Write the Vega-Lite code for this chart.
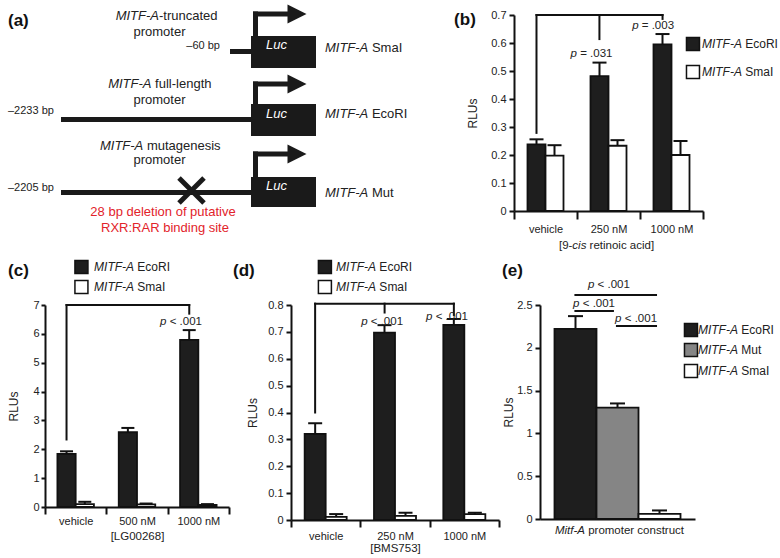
{
  "$schema": "https://vega.github.io/schema/vega-lite/v6.json",
  "padding": {"left": 7, "top": 4, "right": 0, "bottom": 0},
  "background": "#ffffff",
  "config": {
    "font": "Liberation Sans",
    "view": {"stroke": null},
    "axis": {
      "domainColor": "#111111", "domainWidth": 2, "tickColor": "#111111", "tickWidth": 2,
      "labelColor": "#222222", "labelFont": "Liberation Sans", "labelFontSize": 11,
      "titleColor": "#222222", "titleFont": "Liberation Sans", "titleFontSize": 12, "titleFontWeight": "normal",
      "grid": false
    },
    "text": {"font": "Liberation Sans", "color": "#222222"}
  },
  "datasets": {
    "a_lines": [
      {"x": 185, "x2": 206, "y": 36.5, "y2": 36.5},
      {"x": 210.5, "x2": 210.5, "y": 21, "y2": -3.5},
      {"x": 208, "x2": 245, "y": -1, "y2": -1},
      {"x": 16, "x2": 206, "y": 104.5, "y2": 104.5},
      {"x": 210.5, "x2": 210.5, "y": 89, "y2": 66.5},
      {"x": 208, "x2": 245, "y": 69, "y2": 69},
      {"x": 16, "x2": 206, "y": 177.5, "y2": 177.5},
      {"x": 210.5, "x2": 210.5, "y": 162, "y2": 136.5},
      {"x": 208, "x2": 245, "y": 139, "y2": 139},
      {"x": 134, "x2": 159, "y": 163, "y2": 188},
      {"x": 134, "x2": 159, "y": 188, "y2": 163}
    ],
    "a_boxes": [
      {"x": 206, "x2": 271, "y": 21, "y2": 53},
      {"x": 206, "x2": 271, "y": 89, "y2": 121},
      {"x": 206, "x2": 271, "y": 162, "y2": 192}
    ],
    "a_heads": [{"x": 252, "y": -1}, {"x": 252, "y": 69}, {"x": 252, "y": 139}],
    "a_luc": [{"x": 221, "y": 30}, {"x": 221, "y": 99}, {"x": 221, "y": 171}],
    "a_labels": [
      {"x": 106.5, "y": 69, "it": "MITF-A", "rest": "full-length"},
      {"x": 98.3, "y": 131, "it": "MITF-A", "rest": "mutagenesis"},
      {"x": 323.3, "y": 33, "it": "MITF-A", "rest": "SmaI"},
      {"x": 323.3, "y": 99, "it": "MITF-A", "rest": "EcoRI"},
      {"x": 323.3, "y": 178, "it": "MITF-A", "rest": "Mut"}
    ],
    "a_trunc": [{"x": 114, "y": 1, "it": "MITF-A", "rest": "-truncated"}],
    "a_prom": [{"x": 114.5, "y": 17}, {"x": 114.5, "y": 85}, {"x": 114.5, "y": 145}],
    "a_bp_left": [{"x": -37, "y": 96, "t": "–2233 bp"}, {"x": -37, "y": 173, "t": "–2205 bp"}],
    "a_bp_right": [{"x": 175, "y": 31, "t": "–60 bp"}],
    "a_red": [{"x": 118, "y": 197, "t": "28 bp deletion of putative"}, {"x": 120, "y": 213, "t": "RXR:RAR binding site"}],
    "a_tag": [{"x": -37, "y": 10.5}],

    "b_bars": [
      {"conc": "vehicle", "grp": "EcoRI", "rlu": 0.238, "hi": 0.256},
      {"conc": "vehicle", "grp": "SmaI", "rlu": 0.198, "hi": 0.235},
      {"conc": "250 nM", "grp": "EcoRI", "rlu": 0.482, "hi": 0.53},
      {"conc": "250 nM", "grp": "SmaI", "rlu": 0.233, "hi": 0.253},
      {"conc": "1000 nM", "grp": "EcoRI", "rlu": 0.595, "hi": 0.632},
      {"conc": "1000 nM", "grp": "SmaI", "rlu": 0.2, "hi": 0.25}
    ],
    "b_br": [
      {"u": 0.119, "u2": 0.119, "v": 0.279, "v2": 0.7},
      {"u": 0.119, "u2": 0.786, "v": 0.7, "v2": 0.7},
      {"u": 0.786, "u2": 0.786, "v": 0.7, "v2": 0.686},
      {"u": 0.452, "u2": 0.452, "v": 0.7, "v2": 0.614}
    ],
    "b_leg": [
      {"grp": "EcoRI", "u": 0.947, "us": 1.206, "v": 0.596, "rest": "EcoRI"},
      {"grp": "SmaI", "u": 0.947, "us": 1.206, "v": 0.496, "rest": "SmaI"}
    ],
    "b_p": [
      {"u": 0.333, "v": 0.561, "rest": "= .031"},
      {"u": 0.659, "v": 0.661, "rest": "= .003"}
    ],
    "b_tag": [{"u": -0.317, "v": 0.664}],
    "b_title": [{"u": 0.346, "v": -0.125}],

    "c_bars": [
      {"conc": "vehicle", "grp": "EcoRI", "rlu": 1.84, "hi": 1.93},
      {"conc": "vehicle", "grp": "SmaI", "rlu": 0.1, "hi": 0.18},
      {"conc": "500 nM", "grp": "EcoRI", "rlu": 2.59, "hi": 2.74},
      {"conc": "500 nM", "grp": "SmaI", "rlu": 0.09, "hi": 0.12},
      {"conc": "1000 nM", "grp": "EcoRI", "rlu": 5.79, "hi": 6.13},
      {"conc": "1000 nM", "grp": "SmaI", "rlu": 0.07, "hi": 0.1}
    ],
    "c_br": [
      {"u": 0.117, "u2": 0.117, "v": 2.34, "v2": 7},
      {"u": 0.117, "u2": 0.784, "v": 7, "v2": 7},
      {"u": 0.784, "u2": 0.784, "v": 7, "v2": 6.7}
    ],
    "c_leg": [
      {"grp": "EcoRI", "u": 0.198, "us": 0.484, "v": 8.32, "rest": "EcoRI"},
      {"grp": "SmaI", "u": 0.198, "us": 0.484, "v": 7.62, "rest": "SmaI"}
    ],
    "c_p": [{"u": 0.66, "v": 6.41, "rest": "< .001"}],
    "c_tag": [{"u": -0.201, "v": 8.0}],

    "d_bars": [
      {"conc": "vehicle", "grp": "EcoRI", "rlu": 0.32, "hi": 0.36},
      {"conc": "vehicle", "grp": "SmaI", "rlu": 0.012, "hi": 0.022},
      {"conc": "250 nM", "grp": "EcoRI", "rlu": 0.697, "hi": 0.725},
      {"conc": "250 nM", "grp": "SmaI", "rlu": 0.015, "hi": 0.027},
      {"conc": "1000 nM", "grp": "EcoRI", "rlu": 0.726, "hi": 0.748},
      {"conc": "1000 nM", "grp": "SmaI", "rlu": 0.022, "hi": 0.027}
    ],
    "d_br": [
      {"u": 0.116, "u2": 0.116, "v": 0.4, "v2": 0.805},
      {"u": 0.116, "u2": 0.783, "v": 0.805, "v2": 0.805},
      {"u": 0.783, "u2": 0.783, "v": 0.805, "v2": 0.763},
      {"u": 0.45, "u2": 0.45, "v": 0.805, "v2": 0.772}
    ],
    "d_leg": [
      {"grp": "EcoRI", "u": 0.163, "us": 0.409, "v": 0.941, "rest": "EcoRI"},
      {"grp": "SmaI", "u": 0.163, "us": 0.409, "v": 0.867, "rest": "SmaI"}
    ],
    "d_p": [
      {"u": 0.368, "v": 0.735, "rest": "< .001"},
      {"u": 0.68, "v": 0.757, "rest": "< .001"}
    ],
    "d_tag": [{"u": -0.279, "v": 0.908}],

    "e_bars": [
      {"set": "c", "grp": "EcoRI", "rlu": 2.22, "hi": 2.37},
      {"set": "c", "grp": "Mut", "rlu": 1.3, "hi": 1.35},
      {"set": "c", "grp": "SmaI", "rlu": 0.06, "hi": 0.1}
    ],
    "e_br": [
      {"u": 0.222, "u2": 0.755, "v": 2.617, "v2": 2.617},
      {"u": 0.222, "u2": 0.477, "v": 2.43, "v2": 2.43},
      {"u": 0.49, "u2": 0.755, "v": 2.255, "v2": 2.255}
    ],
    "e_leg": [
      {"grp": "EcoRI", "u": 0.974, "us": 1.277, "v": 2.208, "rest": "EcoRI"},
      {"grp": "Mut", "u": 0.974, "us": 1.277, "v": 1.974, "rest": "Mut"},
      {"grp": "SmaI", "u": 0.974, "us": 1.277, "v": 1.729, "rest": "SmaI"}
    ],
    "e_p": [
      {"u": 0.351, "v": 2.734, "rest": "< .001"},
      {"u": 0.255, "v": 2.51, "rest": "< .001"},
      {"u": 0.526, "v": 2.336, "rest": "< .001"}
    ],
    "e_tag": [{"u": -0.245, "v": 2.833}],
    "e_title": [{"u": 0.29, "v": -0.14}]
  },
  "spacing": 5,
  "resolve": {"scale": {"xOffset": "independent"}},
  "vconcat": [
    {
      "spacing": 139,
      "bounds": "flush",
      "resolve": {"scale": {"xOffset": "independent"}},
      "hconcat": [
        {
          "width": 330,
          "height": 220,
          "encoding": {
            "x": {"field": "x", "type": "quantitative", "scale": {"domain": [0, 330], "nice": false, "zero": false}, "axis": null},
            "y": {"field": "y", "type": "quantitative", "scale": {"domain": [0, 220], "nice": false, "zero": false, "reverse": true}, "axis": null}
          },
          "layer": [
            {"data": {"name": "a_lines"}, "mark": {"type": "rule", "strokeWidth": 5, "color": "#1a1a1a"}, "encoding": {"x2": {"field": "x2"}, "y2": {"field": "y2"}}},
            {"data": {"name": "a_boxes"}, "mark": {"type": "rect", "color": "#1a1a1a"}, "encoding": {"x2": {"field": "x2"}, "y2": {"field": "y2"}}},
            {"data": {"name": "a_heads"}, "mark": {"type": "point", "shape": "M-1,-1L1,0L-1,1Z", "size": 361, "filled": true, "color": "#1a1a1a", "opacity": 1, "strokeWidth": 0}},
            {"data": {"name": "a_luc"}, "mark": {"type": "text", "text": "Luc", "fontStyle": "italic", "fontSize": 13, "color": "#ffffff", "align": "left", "baseline": "middle"}},
            {"data": {"name": "a_labels"}, "mark": {"type": "text", "fontStyle": "italic", "fontSize": 13, "align": "right", "baseline": "middle", "color": "#222222"}, "encoding": {"text": {"field": "it"}}},
            {"data": {"name": "a_labels"}, "mark": {"type": "text", "fontSize": 13, "align": "left", "baseline": "middle", "color": "#222222", "dx": 3.6}, "encoding": {"text": {"field": "rest"}}},
            {"data": {"name": "a_trunc"}, "mark": {"type": "text", "fontStyle": "italic", "fontSize": 13, "align": "right", "baseline": "middle", "color": "#222222"}, "encoding": {"text": {"field": "it"}}},
            {"data": {"name": "a_trunc"}, "mark": {"type": "text", "fontSize": 13, "align": "left", "baseline": "middle", "color": "#222222"}, "encoding": {"text": {"field": "rest"}}},
            {"data": {"name": "a_prom"}, "mark": {"type": "text", "text": "promoter", "fontSize": 13, "align": "center", "baseline": "middle", "color": "#222222"}},
            {"data": {"name": "a_bp_left"}, "mark": {"type": "text", "fontSize": 11, "align": "left", "baseline": "middle", "color": "#222222"}, "encoding": {"text": {"field": "t"}}},
            {"data": {"name": "a_bp_right"}, "mark": {"type": "text", "fontSize": 11, "align": "right", "baseline": "middle", "color": "#222222"}, "encoding": {"text": {"field": "t"}}},
            {"data": {"name": "a_red"}, "mark": {"type": "text", "fontSize": 13, "align": "center", "baseline": "middle", "color": "#e2232a"}, "encoding": {"text": {"field": "t"}}},
            {"data": {"name": "a_tag"}, "mark": {"type": "text", "text": "(a)", "fontSize": 17, "fontWeight": "bold", "align": "left", "baseline": "alphabetic", "color": "#111111"}}
          ]
        },
        {
          "width": 189,
          "height": 196,
          "resolve": {"scale": {"x": "independent"}, "axis": {"x": "independent", "y": "independent"}},
          "layer": [
            {
              "resolve": {"axis": {"y": "independent"}},
              "encoding": {
                "x": {"field": "conc", "type": "nominal", "sort": null, "title": null, "scale": {"domain": ["vehicle", "250 nM", "1000 nM"], "paddingInner": 0, "paddingOuter": 0}, "axis": {"tickBand": "extent", "tickSize": 8, "labelPadding": 4, "labelAngle": 0}},
                "xOffset": {"field": "grp", "type": "nominal", "sort": null, "scale": {"domain": ["EcoRI", "SmaI"], "paddingInner": 0, "paddingOuter": 0.75}}
              },
              "layer": [
                {"data": {"name": "b_bars"}, "mark": {"type": "bar", "stroke": "#111111", "strokeWidth": 1.8},
                 "encoding": {
                   "y": {"field": "rlu", "type": "quantitative", "stack": null, "scale": {"domain": [0, 0.7], "nice": false}, "axis": {"values": [0, 0.1, 0.2, 0.3, 0.4, 0.5, 0.6, 0.7], "format": "~g", "tickSize": 5, "labelPadding": 3, "title": "RLUs", "titlePadding": 11}},
                   "fill": {"field": "grp", "type": "nominal", "scale": {"domain": ["EcoRI", "Mut", "SmaI"], "range": ["#1e1e1e", "#858585", "#ffffff"]}, "legend": null}
                 }},
                {"data": {"name": "b_bars"}, "mark": {"type": "rule", "strokeWidth": 2, "color": "#111111"},
                 "encoding": {"y": {"field": "rlu", "type": "quantitative", "scale": {"domain": [0, 0.7], "nice": false}, "axis": null}, "y2": {"field": "hi"}}},
                {"data": {"name": "b_bars"}, "mark": {"type": "tick", "size": 14, "thickness": 2, "color": "#111111", "opacity": 1},
                 "encoding": {"y": {"field": "hi", "type": "quantitative", "scale": {"domain": [0, 0.7], "nice": false}, "axis": null}}}
              ]
            },
            {
              "encoding": {
                "x": {"field": "u", "type": "quantitative", "scale": {"domain": [0, 1], "nice": false, "zero": false}, "axis": null},
                "y": {"field": "v", "type": "quantitative", "scale": {"domain": [0, 0.7], "nice": false}, "axis": null}
              },
              "layer": [
                {"data": {"name": "b_br"}, "mark": {"type": "rule", "strokeWidth": 2, "color": "#111111", "strokeCap": "square"},
                 "encoding": {"x2": {"field": "u2"}, "y2": {"field": "v2"}}},
                {"data": {"name": "b_leg"}, "mark": {"type": "point", "shape": "square", "size": 169, "filled": true, "stroke": "#111111", "strokeWidth": 1.5, "opacity": 1},
                 "encoding": {"fill": {"field": "grp", "type": "nominal", "scale": {"domain": ["EcoRI", "Mut", "SmaI"], "range": ["#1e1e1e", "#858585", "#ffffff"]}, "legend": null}}},
                {"data": {"name": "b_leg"}, "mark": {"type": "text", "text": "MITF-A", "fontStyle": "italic", "fontSize": 12, "align": "right", "baseline": "middle"},
                 "encoding": {"x": {"field": "us", "type": "quantitative", "scale": {"domain": [0, 1], "nice": false, "zero": false}, "axis": null}}},
                {"data": {"name": "b_leg"}, "mark": {"type": "text", "fontSize": 12, "align": "left", "baseline": "middle", "dx": 3.3},
                 "encoding": {"x": {"field": "us", "type": "quantitative", "scale": {"domain": [0, 1], "nice": false, "zero": false}, "axis": null}, "text": {"field": "rest"}}},
                {"data": {"name": "b_p"}, "mark": {"type": "text", "text": "p", "fontStyle": "italic", "fontSize": 11.5, "align": "right", "baseline": "middle"}},
                {"data": {"name": "b_p"}, "mark": {"type": "text", "fontSize": 11.5, "align": "left", "baseline": "middle", "dx": 3.2}, "encoding": {"text": {"field": "rest"}}},
                {"data": {"name": "b_tag"}, "mark": {"type": "text", "text": "(b)", "fontSize": 17, "fontWeight": "bold", "align": "left", "baseline": "alphabetic", "color": "#111111"}},
                {"data": {"name": "b_title"}, "mark": {"type": "text", "text": "[9-", "fontSize": 11.5, "align": "right", "baseline": "middle", "dx": -7}},
                {"data": {"name": "b_title"}, "mark": {"type": "text", "text": "cis", "fontStyle": "italic", "fontSize": 11.5, "align": "center", "baseline": "middle"}},
                {"data": {"name": "b_title"}, "mark": {"type": "text", "text": "retinoic acid]", "fontSize": 11.5, "align": "left", "baseline": "middle", "dx": 10.2}}
              ]
            }
          ]
        }
      ]
    },
    {
      "spacing": 2,
      "resolve": {"scale": {"xOffset": "independent"}},
      "hconcat": [
        {
          "width": 184,
          "height": 202,
          "resolve": {"scale": {"x": "independent"}, "axis": {"x": "independent", "y": "independent"}},
          "layer": [
            {
              "resolve": {"axis": {"y": "independent"}},
              "encoding": {
                "x": {"field": "conc", "type": "nominal", "sort": null, "title": "[LG00268]", "scale": {"domain": ["vehicle", "500 nM", "1000 nM"], "paddingInner": 0, "paddingOuter": 0}, "axis": {"tickBand": "extent", "tickSize": 7, "labelPadding": 1, "labelAngle": 0, "titleFontSize": 11.5, "titlePadding": 4}},
                "xOffset": {"field": "grp", "type": "nominal", "sort": null, "scale": {"domain": ["EcoRI", "SmaI"], "paddingInner": 0, "paddingOuter": 0.68}}
              },
              "layer": [
                {"data": {"name": "c_bars"}, "mark": {"type": "bar", "stroke": "#111111", "strokeWidth": 1.8},
                 "encoding": {
                   "y": {"field": "rlu", "type": "quantitative", "stack": null, "scale": {"domain": [0, 7], "nice": false}, "axis": {"values": [0, 1, 2, 3, 4, 5, 6, 7], "format": "~g", "tickSize": 4, "labelPadding": 2, "title": "RLUs", "titlePadding": 12}},
                   "fill": {"field": "grp", "type": "nominal", "scale": {"domain": ["EcoRI", "Mut", "SmaI"], "range": ["#1e1e1e", "#858585", "#ffffff"]}, "legend": null}
                 }},
                {"data": {"name": "c_bars"}, "mark": {"type": "rule", "strokeWidth": 2, "color": "#111111"},
                 "encoding": {"y": {"field": "rlu", "type": "quantitative", "scale": {"domain": [0, 7], "nice": false}, "axis": null}, "y2": {"field": "hi"}}},
                {"data": {"name": "c_bars"}, "mark": {"type": "tick", "size": 13, "thickness": 2, "color": "#111111", "opacity": 1},
                 "encoding": {"y": {"field": "hi", "type": "quantitative", "scale": {"domain": [0, 7], "nice": false}, "axis": null}}}
              ]
            },
            {
              "encoding": {
                "x": {"field": "u", "type": "quantitative", "scale": {"domain": [0, 1], "nice": false, "zero": false}, "axis": null},
                "y": {"field": "v", "type": "quantitative", "scale": {"domain": [0, 7], "nice": false}, "axis": null}
              },
              "layer": [
                {"data": {"name": "c_br"}, "mark": {"type": "rule", "strokeWidth": 2, "color": "#111111", "strokeCap": "square"},
                 "encoding": {"x2": {"field": "u2"}, "y2": {"field": "v2"}}},
                {"data": {"name": "c_leg"}, "mark": {"type": "point", "shape": "square", "size": 169, "filled": true, "stroke": "#111111", "strokeWidth": 1.5, "opacity": 1},
                 "encoding": {"fill": {"field": "grp", "type": "nominal", "scale": {"domain": ["EcoRI", "Mut", "SmaI"], "range": ["#1e1e1e", "#858585", "#ffffff"]}, "legend": null}}},
                {"data": {"name": "c_leg"}, "mark": {"type": "text", "text": "MITF-A", "fontStyle": "italic", "fontSize": 12, "align": "right", "baseline": "middle"},
                 "encoding": {"x": {"field": "us", "type": "quantitative", "scale": {"domain": [0, 1], "nice": false, "zero": false}, "axis": null}}},
                {"data": {"name": "c_leg"}, "mark": {"type": "text", "fontSize": 12, "align": "left", "baseline": "middle", "dx": 3.3},
                 "encoding": {"x": {"field": "us", "type": "quantitative", "scale": {"domain": [0, 1], "nice": false, "zero": false}, "axis": null}, "text": {"field": "rest"}}},
                {"data": {"name": "c_p"}, "mark": {"type": "text", "text": "p", "fontStyle": "italic", "fontSize": 11.5, "align": "right", "baseline": "middle"}},
                {"data": {"name": "c_p"}, "mark": {"type": "text", "fontSize": 11.5, "align": "left", "baseline": "middle", "dx": 3.2}, "encoding": {"text": {"field": "rest"}}},
                {"data": {"name": "c_tag"}, "mark": {"type": "text", "text": "(c)", "fontSize": 17, "fontWeight": "bold", "align": "left", "baseline": "alphabetic", "color": "#111111"}}
              ]
            }
          ]
        },
        {
          "width": 208,
          "height": 215,
          "resolve": {"scale": {"x": "independent"}, "axis": {"x": "independent", "y": "independent"}},
          "layer": [
            {
              "resolve": {"axis": {"y": "independent"}},
              "encoding": {
                "x": {"field": "conc", "type": "nominal", "sort": null, "title": "[BMS753]", "scale": {"domain": ["vehicle", "250 nM", "1000 nM"], "paddingInner": 0, "paddingOuter": 0}, "axis": {"tickBand": "extent", "tickSize": 7, "labelPadding": 3, "labelAngle": 0, "titleFontSize": 11.5, "titlePadding": 1}},
                "xOffset": {"field": "grp", "type": "nominal", "sort": null, "scale": {"domain": ["EcoRI", "SmaI"], "paddingInner": 0, "paddingOuter": 0.65}}
              },
              "layer": [
                {"data": {"name": "d_bars"}, "mark": {"type": "bar", "stroke": "#111111", "strokeWidth": 1.8},
                 "encoding": {
                   "y": {"field": "rlu", "type": "quantitative", "stack": null, "scale": {"domain": [0, 0.8], "nice": false}, "axis": {"values": [0, 0.1, 0.2, 0.3, 0.4, 0.5, 0.6, 0.7, 0.8], "format": "~g", "tickSize": 5, "labelPadding": 3, "title": "RLUs", "titlePadding": 8}},
                   "fill": {"field": "grp", "type": "nominal", "scale": {"domain": ["EcoRI", "Mut", "SmaI"], "range": ["#1e1e1e", "#858585", "#ffffff"]}, "legend": null}
                 }},
                {"data": {"name": "d_bars"}, "mark": {"type": "rule", "strokeWidth": 2, "color": "#111111"},
                 "encoding": {"y": {"field": "rlu", "type": "quantitative", "scale": {"domain": [0, 0.8], "nice": false}, "axis": null}, "y2": {"field": "hi"}}},
                {"data": {"name": "d_bars"}, "mark": {"type": "tick", "size": 14, "thickness": 2, "color": "#111111", "opacity": 1},
                 "encoding": {"y": {"field": "hi", "type": "quantitative", "scale": {"domain": [0, 0.8], "nice": false}, "axis": null}}}
              ]
            },
            {
              "encoding": {
                "x": {"field": "u", "type": "quantitative", "scale": {"domain": [0, 1], "nice": false, "zero": false}, "axis": null},
                "y": {"field": "v", "type": "quantitative", "scale": {"domain": [0, 0.8], "nice": false}, "axis": null}
              },
              "layer": [
                {"data": {"name": "d_br"}, "mark": {"type": "rule", "strokeWidth": 2, "color": "#111111", "strokeCap": "square"},
                 "encoding": {"x2": {"field": "u2"}, "y2": {"field": "v2"}}},
                {"data": {"name": "d_leg"}, "mark": {"type": "point", "shape": "square", "size": 169, "filled": true, "stroke": "#111111", "strokeWidth": 1.5, "opacity": 1},
                 "encoding": {"fill": {"field": "grp", "type": "nominal", "scale": {"domain": ["EcoRI", "Mut", "SmaI"], "range": ["#1e1e1e", "#858585", "#ffffff"]}, "legend": null}}},
                {"data": {"name": "d_leg"}, "mark": {"type": "text", "text": "MITF-A", "fontStyle": "italic", "fontSize": 12, "align": "right", "baseline": "middle"},
                 "encoding": {"x": {"field": "us", "type": "quantitative", "scale": {"domain": [0, 1], "nice": false, "zero": false}, "axis": null}}},
                {"data": {"name": "d_leg"}, "mark": {"type": "text", "fontSize": 12, "align": "left", "baseline": "middle", "dx": 3.3},
                 "encoding": {"x": {"field": "us", "type": "quantitative", "scale": {"domain": [0, 1], "nice": false, "zero": false}, "axis": null}, "text": {"field": "rest"}}},
                {"data": {"name": "d_p"}, "mark": {"type": "text", "text": "p", "fontStyle": "italic", "fontSize": 11.5, "align": "right", "baseline": "middle"}},
                {"data": {"name": "d_p"}, "mark": {"type": "text", "fontSize": 11.5, "align": "left", "baseline": "middle", "dx": 3.2}, "encoding": {"text": {"field": "rest"}}},
                {"data": {"name": "d_tag"}, "mark": {"type": "text", "text": "(d)", "fontSize": 17, "fontWeight": "bold", "align": "left", "baseline": "alphabetic", "color": "#111111"}}
              ]
            }
          ]
        },
        {
          "width": 155,
          "height": 214,
          "resolve": {"scale": {"x": "independent"}, "axis": {"x": "independent", "y": "independent"}},
          "layer": [
            {
              "resolve": {"axis": {"y": "independent"}},
              "encoding": {
                "x": {"field": "set", "type": "nominal", "title": null, "scale": {"domain": ["c"], "paddingInner": 0, "paddingOuter": 0}, "axis": {"labels": false, "ticks": false}},
                "xOffset": {"field": "grp", "type": "nominal", "sort": null, "scale": {"domain": ["EcoRI", "Mut", "SmaI"], "paddingInner": 0, "paddingOuter": 0.345}}
              },
              "layer": [
                {"data": {"name": "e_bars"}, "mark": {"type": "bar", "stroke": "#111111", "strokeWidth": 1.8},
                 "encoding": {
                   "y": {"field": "rlu", "type": "quantitative", "stack": null, "scale": {"domain": [0, 2.5], "nice": false}, "axis": {"values": [0, 0.5, 1, 1.5, 2, 2.5], "format": "~g", "tickSize": 5, "labelPadding": 3, "title": "RLUs", "titlePadding": 1}},
                   "fill": {"field": "grp", "type": "nominal", "scale": {"domain": ["EcoRI", "Mut", "SmaI"], "range": ["#1e1e1e", "#858585", "#ffffff"]}, "legend": null}
                 }},
                {"data": {"name": "e_bars"}, "mark": {"type": "rule", "strokeWidth": 2, "color": "#111111"},
                 "encoding": {"y": {"field": "rlu", "type": "quantitative", "scale": {"domain": [0, 2.5], "nice": false}, "axis": null}, "y2": {"field": "hi"}}},
                {"data": {"name": "e_bars"}, "mark": {"type": "tick", "size": 15, "thickness": 2, "color": "#111111", "opacity": 1},
                 "encoding": {"y": {"field": "hi", "type": "quantitative", "scale": {"domain": [0, 2.5], "nice": false}, "axis": null}}}
              ]
            },
            {
              "encoding": {
                "x": {"field": "u", "type": "quantitative", "scale": {"domain": [0, 1], "nice": false, "zero": false}, "axis": null},
                "y": {"field": "v", "type": "quantitative", "scale": {"domain": [0, 2.5], "nice": false}, "axis": null}
              },
              "layer": [
                {"data": {"name": "e_br"}, "mark": {"type": "rule", "strokeWidth": 2, "color": "#111111"},
                 "encoding": {"x2": {"field": "u2"}, "y2": {"field": "v2"}}},
                {"data": {"name": "e_leg"}, "mark": {"type": "point", "shape": "square", "size": 169, "filled": true, "stroke": "#111111", "strokeWidth": 1.5, "opacity": 1},
                 "encoding": {"fill": {"field": "grp", "type": "nominal", "scale": {"domain": ["EcoRI", "Mut", "SmaI"], "range": ["#1e1e1e", "#858585", "#ffffff"]}, "legend": null}}},
                {"data": {"name": "e_leg"}, "mark": {"type": "text", "text": "MITF-A", "fontStyle": "italic", "fontSize": 12, "align": "right", "baseline": "middle"},
                 "encoding": {"x": {"field": "us", "type": "quantitative", "scale": {"domain": [0, 1], "nice": false, "zero": false}, "axis": null}}},
                {"data": {"name": "e_leg"}, "mark": {"type": "text", "fontSize": 12, "align": "left", "baseline": "middle", "dx": 3.3},
                 "encoding": {"x": {"field": "us", "type": "quantitative", "scale": {"domain": [0, 1], "nice": false, "zero": false}, "axis": null}, "text": {"field": "rest"}}},
                {"data": {"name": "e_p"}, "mark": {"type": "text", "text": "p", "fontStyle": "italic", "fontSize": 11.5, "align": "right", "baseline": "middle"}},
                {"data": {"name": "e_p"}, "mark": {"type": "text", "fontSize": 11.5, "align": "left", "baseline": "middle", "dx": 3.2}, "encoding": {"text": {"field": "rest"}}},
                {"data": {"name": "e_tag"}, "mark": {"type": "text", "text": "(e)", "fontSize": 17, "fontWeight": "bold", "align": "left", "baseline": "alphabetic", "color": "#111111"}},
                {"data": {"name": "e_title"}, "mark": {"type": "text", "text": "Mitf-A", "fontStyle": "italic", "fontSize": 11.5, "align": "right", "baseline": "middle"}},
                {"data": {"name": "e_title"}, "mark": {"type": "text", "text": "promoter construct", "fontSize": 11.5, "align": "left", "baseline": "middle", "dx": 3.2}}
              ]
            }
          ]
        }
      ]
    }
  ]
}
